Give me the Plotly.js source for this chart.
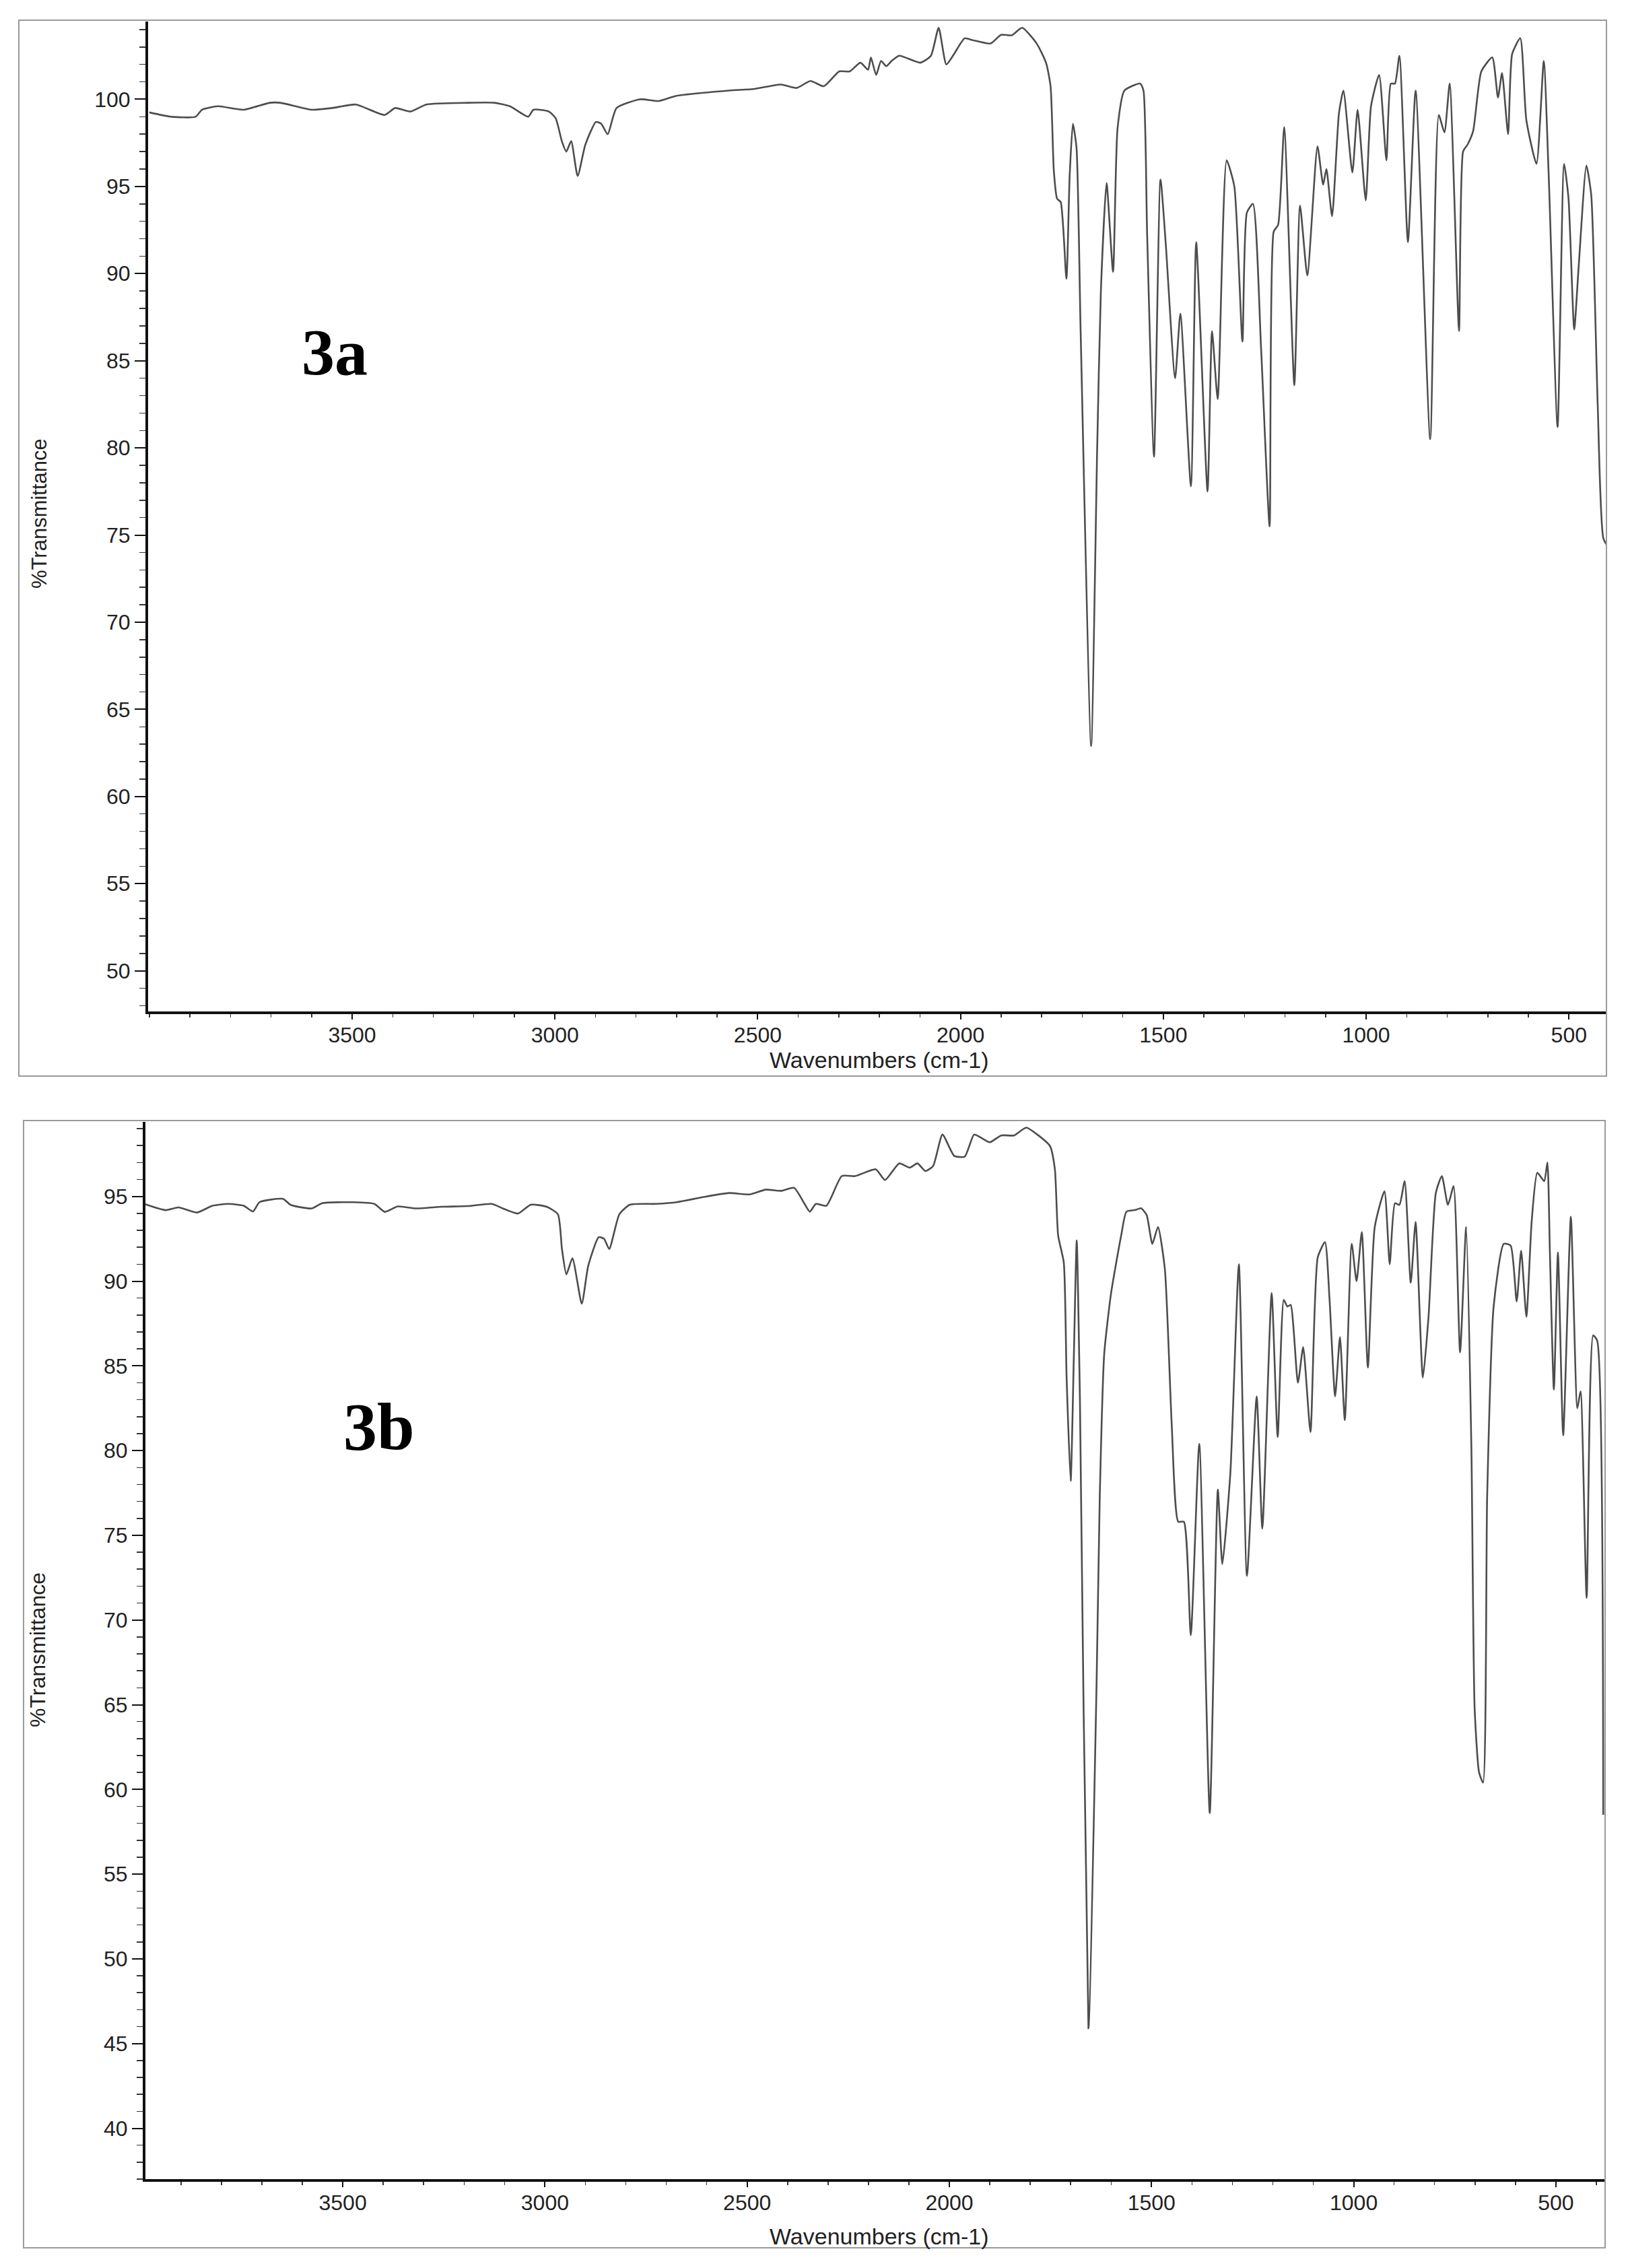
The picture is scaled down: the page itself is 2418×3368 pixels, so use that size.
<!DOCTYPE html>
<html>
<head>
<meta charset="utf-8">
<script src="https://cdn.plot.ly/plotly-3.0.1.min.js"></script>
<style>
  html, body { margin: 0; padding: 0; background: #ffffff; }
  #chart { width: 2418px; height: 3368px; }
</style>
</head>
<body>
<div id="chart"></div>
<script>
// ---------- Spectrum 3a ----------
const wavenumbersA = [4000,3947,3886,3870,3831,3767,3703,3677,3600,3549,3491,3420,3394,3356,3317,3214,3150,3111,3066,3053,3015,2998,2983,2972,2960,2944,2925,2899,2886,2870,2848,2790,2745,2700,2571,2507,2443,2404,
  2370,2337,2299,2273,2247,2228,2221,2208,2196,2183,2170,2151,2099,2073,2054,2035,2016,1990,1971,1926,1900,1874,1848,
  1812,1789,1778,1770,1762,1753,1739,1731,1723,1714,1704,1678,1663,1654,1640,1624,1613,1596,1557,1549,1540,1523,1507,1494,1471,1458,1432,1419,1391,1380,1366,1344,1325,1305,1294,1279,1259,1238,1228,1217,1202,1177,1163,1145,1120,1106,1098,1084,
  1067,1056,1034,1021,1001,988,968,950,939,929,918,897,878,842,821,807,794,771,761,750,736,716,689,675,665,650,640,620,605,580,562,550,528,512,501,487,476,457,445,429,415,400];
const transmittanceA = [99.25,99.0,99.0,99.4,99.6,99.4,99.8,99.8,99.4,99.5,99.7,99.1,99.5,99.3,99.7,99.8,99.8,99.6,99.0,99.4,99.3,98.9,97.6,97.0,97.6,95.6,97.4,98.7,98.6,98.0,99.5,100.0,99.9,100.2,100.5,100.6,100.85,100.65,
  101.05,100.75,101.6,101.6,102.1,101.7,102.4,101.4,102.2,101.9,102.2,102.5,102.1,102.5,104.1,102.0,102.6,103.5,103.4,103.2,103.7,103.67,104.1,
  103.19,102.08,100.75,95.9,94.3,94.1,89.7,95.6,98.6,97.2,86.8,62.9,80.1,89.0,95.2,90.1,98.3,100.5,100.9,100.5,92.3,79.5,95.4,91.7,84.0,87.7,77.8,91.8,77.5,86.7,82.8,96.5,95.0,86.1,93.5,94.0,85.7,75.5,92.4,92.8,98.4,83.6,93.9,89.9,97.3,95.1,96.0,93.3,
  99.2,100.5,95.8,99.4,94.2,99.6,101.4,96.5,100.9,100.9,102.5,91.8,100.5,80.5,99.1,98.1,100.9,86.7,97.0,97.4,98.2,101.6,102.4,100.1,101.5,98.0,102.6,103.5,98.8,96.3,102.2,95.7,81.2,96.3,94.3,86.8,90.4,96.2,94.5,82.4,74.8,74.2];

// ---------- Spectrum 3b ----------
const wavenumbersB = [3990,3938,3906,3861,3822,3783,3745,3722,3706,3648,3629,3577,3551,3474,3422,3396,3364,3319,3254,3190,3132,3100,3067,3035,2996,2968,2958,2947,2932,2909,2893,2867,2854,2841,2816,2790,2725,2674,2609,2545,2493,2454,2416,2384,2358,
  2345,2330,2304,2266,2233,2182,2159,2124,2098,2079,2059,2040,2017,1988,1962,1939,1924,1900,1872,1840,1810,
  1783,1751,1739,1731,1717,1710,1700,1692,1685,1677,1656,1636,1628,1617,1600,1575,1562,1540,1526,1512,1498,1484,1467,1450,1434,1420,1403,1382,1356,1336,1325,1305,1284,1264,1240,1226,1203,1188,1173,1164,1156,1138,1125,1107,1089,1071,
  1060,1046,1034,1022,1005,993,980,965,948,924,911,898,887,874,859,847,829,815,797,782,767,753,737,722,709,701,690,680,670,654,629,612,597,586,573,560,546,529,521,515,505,495,482,463,447,439,424,408,398,383];
const transmittanceB = [94.55,94.19,94.35,94.05,94.45,94.56,94.45,94.11,94.66,94.86,94.5,94.29,94.6,94.66,94.56,94.09,94.41,94.29,94.39,94.43,94.56,94.25,93.99,94.51,94.39,93.95,91.9,90.4,91.35,88.67,90.9,92.6,92.5,91.9,93.95,94.51,94.56,94.66,94.96,95.2,95.12,95.4,95.33,95.51,94.56,
  94.1,94.56,94.45,96.2,96.2,96.6,95.97,96.95,96.7,96.95,96.5,96.8,98.65,97.4,97.35,98.65,98.5,98.2,98.6,98.6,99.06,
  98.66,97.97,96.6,92.7,91.1,84.3,78.2,85.7,92.4,82.9,45.9,66.1,77.3,85.7,89.3,92.7,94.1,94.2,94.3,93.9,92.2,93.2,90.7,81.5,75.8,75.8,69.1,80.4,58.6,77.7,73.3,78.7,91.0,72.6,83.2,75.4,89.3,80.8,88.9,88.5,88.6,84.0,86.1,81.1,91.4,92.3,
  89.0,83.2,86.7,81.8,92.2,90.0,92.9,84.9,93.2,95.3,91.0,94.6,94.5,95.9,89.9,93.5,84.3,87.9,95.2,96.2,94.5,95.6,85.8,93.2,80.1,64.8,61.0,60.4,77.3,88.5,92.2,92.1,88.8,91.8,87.9,93.5,96.4,95.9,97.0,91.8,83.6,91.7,80.9,93.8,82.5,83.5,71.3,86.8,86.5,58.5];

// ---------- Labels ----------
const xTitle = 'Wavenumbers (cm-1)';
const yTitle = '%Transmittance';
const panelLabels = ['3a', '3b'];
const xTickValues = [3500, 3000, 2500, 2000, 1500, 1000, 500];

const W = 2418, H = 3368;
const px = v => v / W;
const py = v => 1 - v / H;

const lineStyle = { color: '#4d4d4d', width: 2.6, shape: 'spline', smoothing: 0.55 };
const tickFont = { family: 'Liberation Sans, Arial, sans-serif', size: 32, color: '#222' };

const traces = [
  { x: wavenumbersA, y: transmittanceA, xaxis: 'x', yaxis: 'y', type: 'scatter', mode: 'lines', line: lineStyle, hoverinfo: 'skip' },
  { x: wavenumbersB, y: transmittanceB, xaxis: 'x2', yaxis: 'y2', type: 'scatter', mode: 'lines', line: lineStyle, hoverinfo: 'skip' }
];

function xAxis(domain, range, anchor) {
  return {
    domain: domain, range: range, anchor: anchor, autorange: false,
    showline: true, linewidth: 4, linecolor: '#111', mirror: false,
    ticks: 'outside', ticklen: 8, tickwidth: 2, tickcolor: '#111',
    tickmode: 'array', tickvals: xTickValues, ticktext: xTickValues.map(String),
    tickfont: tickFont, ticklabelstandoff: -4,
    showgrid: false, zeroline: false,
    minor: { dtick: 100, tick0: 0, ticks: 'outside', ticklen: 5, tickwidth: 1.5, tickcolor: '#333', showgrid: false }
  };
}
function yAxis(domain, range, anchor) {
  return {
    domain: domain, range: range, anchor: anchor, autorange: false,
    showline: true, linewidth: 4, linecolor: '#111', mirror: false,
    ticks: 'outside', ticklen: 16, tickwidth: 2, tickcolor: '#111',
    tick0: 0, dtick: 5, tickfont: tickFont,
    showgrid: false, zeroline: false,
    minor: { dtick: 1, tick0: 0, ticks: 'outside', ticklen: 9, tickwidth: 1.5, tickcolor: '#333', showgrid: false }
  };
}

const layout = {
  width: W, height: H,
  margin: { l: 0, r: 0, t: 0, b: 0 },
  paper_bgcolor: '#ffffff', plot_bgcolor: '#ffffff',
  showlegend: false,
  xaxis: xAxis([px(220), px(2386)], [4003, 407.5], 'y'),
  yaxis: yAxis([py(1502), py(32)], [47.67, 104.46], 'x'),
  xaxis2: xAxis([px(216), px(2383)], [3988, 380], 'y2'),
  yaxis2: yAxis([py(3236), py(1666)], [37.0, 99.4], 'x2'),
  shapes: [
    { type: 'rect', xref: 'paper', yref: 'paper', x0: px(28), x1: px(2386), y0: py(1598), y1: py(30), line: { color: '#9a9a9a', width: 2 } },
    { type: 'rect', xref: 'paper', yref: 'paper', x0: px(35), x1: px(2384), y0: py(3338), y1: py(1664), line: { color: '#9a9a9a', width: 2 } }
  ],
  annotations: [
    { text: '<b>' + panelLabels[0] + '</b>', xref: 'paper', yref: 'paper', x: px(497), y: py(523), xanchor: 'center', yanchor: 'middle', showarrow: false,
      font: { family: 'Liberation Serif, Times New Roman, serif', size: 98, color: '#000' } },
    { text: '<b>' + panelLabels[1] + '</b>', xref: 'paper', yref: 'paper', x: px(563), y: py(2118), xanchor: 'center', yanchor: 'middle', showarrow: false,
      font: { family: 'Liberation Serif, Times New Roman, serif', size: 100, color: '#000' } },
    { text: yTitle, xref: 'paper', yref: 'paper', x: px(58), y: py(763), xanchor: 'center', yanchor: 'middle', textangle: -90, showarrow: false,
      font: { family: 'Liberation Sans, Arial, sans-serif', size: 31, color: '#222' } },
    { text: yTitle, xref: 'paper', yref: 'paper', x: px(56), y: py(2450), xanchor: 'center', yanchor: 'middle', textangle: -90, showarrow: false,
      font: { family: 'Liberation Sans, Arial, sans-serif', size: 32, color: '#222' } },
    { text: xTitle, xref: 'paper', yref: 'paper', x: px(1306), y: py(1574), xanchor: 'center', yanchor: 'middle', showarrow: false,
      font: { family: 'Liberation Sans, Arial, sans-serif', size: 34, color: '#222' } },
    { text: xTitle, xref: 'paper', yref: 'paper', x: px(1306), y: py(3321), xanchor: 'center', yanchor: 'middle', showarrow: false,
      font: { family: 'Liberation Sans, Arial, sans-serif', size: 34, color: '#222' } }
  ]
};

Plotly.newPlot('chart', traces, layout, { staticPlot: true, displayModeBar: false });
</script>
</body>
</html>
